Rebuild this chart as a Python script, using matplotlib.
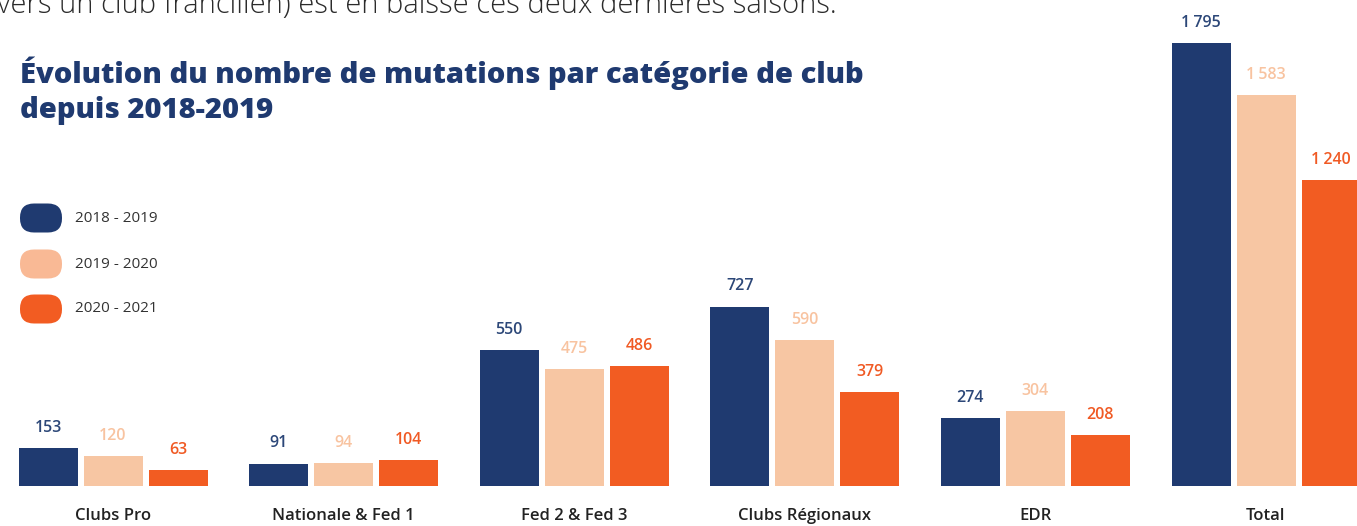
import matplotlib
matplotlib.use("Agg")
import matplotlib.pyplot as plt
from matplotlib.patches import FancyBboxPatch
from matplotlib.transforms import IdentityTransform

plt.rcParams['font.family'] = ['Open Sans', 'DejaVu Sans']

categories = ["Clubs Pro", "Nationale & Fed 1", "Fed 2 & Fed 3",
              "Clubs Régionaux", "EDR", "Total"]
seasons = ["2018 - 2019", "2019 - 2020", "2020 - 2021"]
values_2018 = [153, 91, 550, 727, 274, 1795]
values_2019 = [120, 94, 475, 590, 304, 1583]
values_2020 = [63, 104, 486, 379, 208, 1240]

bar_colors = ["#1f3a70", "#f7c6a3", "#f25c22"]
label_colors = ["#2c4778", "#f8c3a0", "#f05a24"]

W, H = 1357, 526
fig = plt.figure(figsize=(W / 100, H / 100), dpi=100)

# axes: baseline sits 40 px above the bottom edge
ax = fig.add_axes([0, 40 / H, 1, 486 / H])
px_per_group = 230.6
ax.set_xlim(-113 / px_per_group, (W - 113) / px_per_group)
ax.set_ylim(0, 486 / 0.2468)
ax.axis("off")

bar_w = 59 / px_per_group
step = 65 / px_per_group
series = [values_2018, values_2019, values_2020]

for k, vals in enumerate(series):
    xs = [i + (k - 1) * step for i in range(len(categories))]
    ax.bar(xs, vals, width=bar_w, color=bar_colors[k], linewidth=0)
    for x, v in zip(xs, vals):
        txt = f"{v:,}".replace(",", "\u202f")
        ax.annotate(txt, (x, v), xytext=(0, 14.5), textcoords="offset points",
                    ha="center", va="center", fontsize=11.5, fontweight="semibold",
                    color=label_colors[k], clip_on=False)

for i, cat in enumerate(categories):
    ax.annotate(cat, (i, 0), xytext=(0, -21.5), textcoords="offset points",
                ha="center", va="center", fontsize=12, fontweight="semibold",
                color="#222222", clip_on=False)

# intro sentence cut off at the top edge
fig.text(-0.002, 1 - 13 / H, "vers un club francilien) est en baisse ces deux dernières saisons.",
         fontsize=21, fontweight="light", color="#2b2b2b", ha="left", va="baseline")

fig.text(20 / W, 1 - 83 / H, "Évolution du nombre de mutations par catégorie de club",
         fontsize=21, fontweight="heavy", color="#1f3a70", ha="left", va="baseline")
fig.text(20 / W, 1 - 118 / H, "depuis 2018-2019",
         fontsize=21, fontweight="heavy", color="#1f3a70", ha="left", va="baseline")

# legend pills
legend_y = [218, 264, 309]
for k, yc in enumerate(legend_y):
    pill = FancyBboxPatch((20, H - yc - 14.5), 42, 29,
                          boxstyle="round,pad=0,rounding_size=14",
                          transform=IdentityTransform(),
                          facecolor=[bar_colors[0], "#f9b995", bar_colors[2]][k],
                          edgecolor="none")
    fig.add_artist(pill)
    fig.text(75 / W, 1 - yc / H, seasons[k], fontsize=11, color="#333333",
             ha="left", va="center")

fig.savefig("out.png", dpi=100)
